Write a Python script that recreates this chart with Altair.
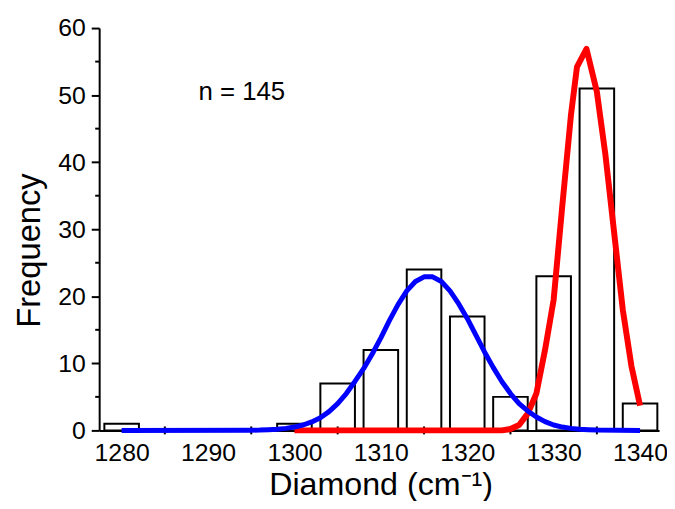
import altair as alt
import pandas as pd

# Histogram (bin centres and counts)
bin_centers = [1280, 1300, 1305, 1310, 1315, 1320, 1325, 1330, 1335, 1340]
counts = [1, 1, 7, 12, 24, 17, 5, 23, 51, 4]
half_bin = 2

# Blue fitted curve
blue_x = [1280, 1295, 1296, 1297, 1298, 1299, 1300, 1301, 1302, 1303, 1304, 1305,
          1306, 1307, 1308, 1309, 1310, 1311, 1312, 1313, 1314, 1315, 1316, 1317,
          1318, 1319, 1320, 1321, 1322, 1323, 1324, 1325, 1326, 1327, 1328, 1329,
          1330, 1331, 1332, 1333, 1334, 1335, 1340]
blue_y = [0, 0.03, 0.05, 0.1, 0.17, 0.3, 0.5, 0.8, 1.26, 1.9, 2.8, 4.0,
          5.5, 7.3, 9.2, 11.4, 13.8, 16.4, 18.8, 20.8, 22.2, 22.9, 22.9, 22.2,
          20.8, 18.9, 16.7, 14.2, 11.7, 9.4, 7.3, 5.5, 4.0, 2.9, 2.0, 1.3,
          0.8, 0.5, 0.3, 0.17, 0.1, 0.05, 0]

# Red fitted curve
red_x = [1300, 1324, 1325, 1326, 1327, 1328, 1329, 1330, 1331, 1332, 1332.7,
         1333.8, 1335, 1336, 1337, 1338, 1339, 1340]
red_y = [0, 0, 0.2, 0.8, 2.5, 5.5, 12, 19.5, 33.5, 47, 54.2,
         56.9, 50.5, 41, 29.5, 18, 9.6, 3.7]

x_ticks = [1280, 1290, 1300, 1310, 1320, 1330, 1340]
x_minor = [1285, 1295, 1305, 1315, 1325, 1335]
y_ticks = [0, 10, 20, 30, 40, 50, 60]
y_minor = [5, 15, 25, 35, 45, 55]

note_text = ["n = 145"]
note_x = [1288.9]
note_y = [49.2]

W, H = 565, 406
FONT = "Liberation Sans"

xs = alt.Scale(domain=[1277.4, 1342.2], nice=False, zero=False)
ys = alt.Scale(domain=[0, 60], nice=False, zero=False)

x_axis = alt.Axis(
    values=x_ticks, format="d", grid=False,
    ticks=True, tickSize=0,
    labelFont=FONT, labelFontSize=25, labelColor="black", labelPadding=10,
    domainColor="black", domainWidth=2,
    title="Diamond (cm⁻¹)", titleFont=FONT, titleFontSize=32.5,
    titleFontWeight="normal", titleColor="black",
    titleX=284, titleY=65, titleBaseline="alphabetic", titleAlign="center")
y_axis = alt.Axis(
    values=y_ticks, format="d", grid=False,
    tickSize=8, tickWidth=2, tickColor="black",
    labelFont=FONT, labelFontSize=25, labelColor="black", labelPadding=6,
    domainColor="black", domainWidth=2,
    title="Frequency", titleFont=FONT, titleFontSize=33,
    titleFontWeight="normal", titleColor="black",
    titleX=-60, titleY=224, titleAngle=270, titleBaseline="alphabetic",
    titleAlign="center")


def X(field):
    return alt.X(field, scale=xs, axis=x_axis, title="Diamond (cm⁻¹)")


def Y(field):
    return alt.Y(field, scale=ys, axis=y_axis, title="Frequency")


hist = pd.DataFrame({"center": bin_centers, "count": counts})
bars = alt.Chart(hist).transform_calculate(
    x0=f"datum.center - {half_bin}", x1=f"datum.center + {half_bin}", base="0"
).mark_rect(fill="white", stroke="black", strokeWidth=2).encode(
    x=X("x0:Q"), x2="x1:Q",
    y=Y("count:Q"), y2="base:Q",
)

xminor = alt.Chart(pd.DataFrame({"v": x_minor})).mark_rule(
    color="black", strokeWidth=2).encode(
    x=X("v:Q"),
    y=alt.value(H - 4), y2=alt.value(H + 4))

yminor = alt.Chart(pd.DataFrame({"v": y_minor})).mark_rule(
    color="black", strokeWidth=2).encode(
    y=Y("v:Q"),
    x=alt.value(-4), x2=alt.value(0))

red = alt.Chart(pd.DataFrame({"x": red_x, "y": red_y})).mark_line(
    color="#ff0000", strokeWidth=6, strokeJoin="round").encode(
    x=X("x:Q"), y=Y("y:Q"))

blue = alt.Chart(pd.DataFrame({"x": blue_x, "y": blue_y})).mark_line(
    color="#0000ff", strokeWidth=5, strokeJoin="round").encode(
    x=X("x:Q"), y=Y("y:Q"))

note = alt.Chart(pd.DataFrame({"x": note_x, "y": note_y, "t": note_text})).mark_text(
    align="left", baseline="alphabetic", font=FONT, fontSize=26, color="black").encode(
    x=X("x:Q"), y=Y("y:Q"), text="t:N")

chart = alt.layer(bars, xminor, yminor, red, blue, note).properties(
    width=W, height=H,
    autosize=alt.AutoSizeParams(type="none"),
    padding={"left": 92, "top": 18, "right": 8, "bottom": 69},
    background="white",
).configure_view(stroke=None)

chart.save("out.html", embed_options={"renderer": "svg", "actions": False})
